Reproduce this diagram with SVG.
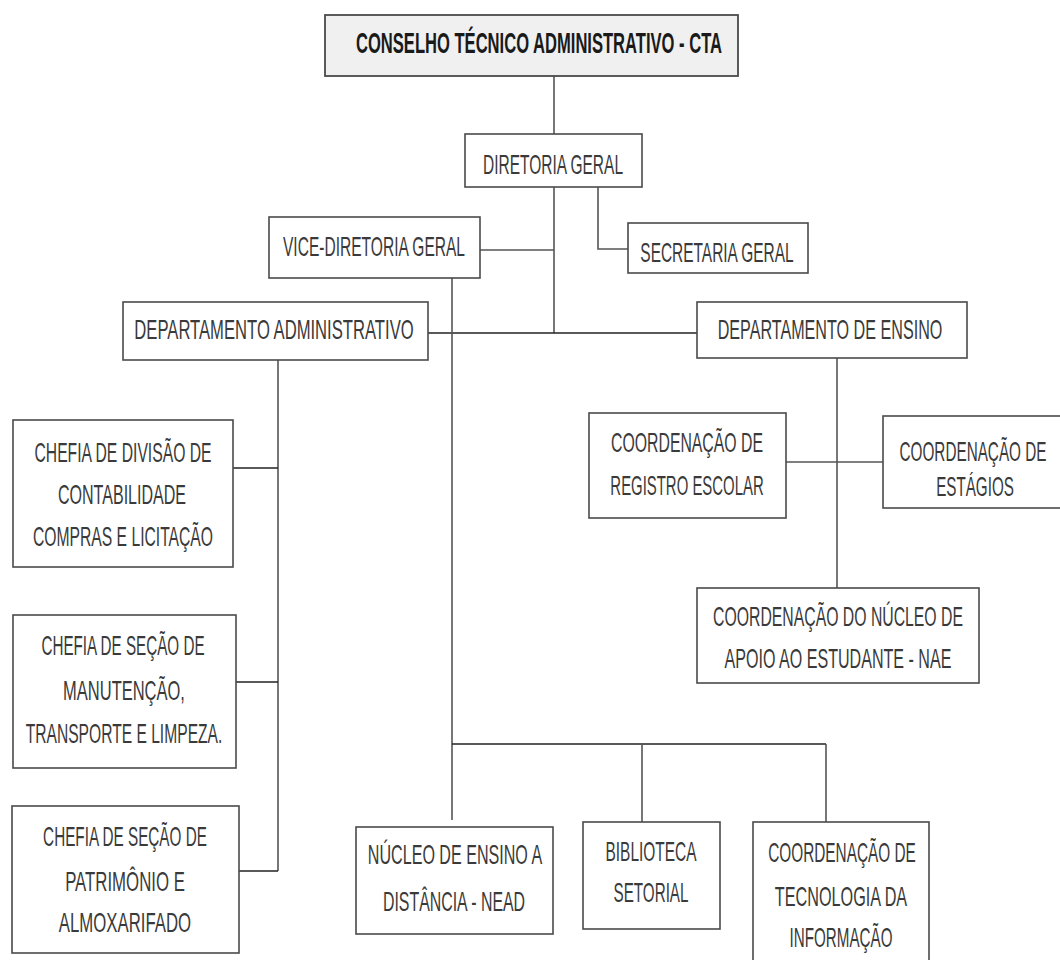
<svg xmlns="http://www.w3.org/2000/svg" width="1060" height="960" viewBox="0 0 1060 960">
<style>
.box{fill:#ffffff;stroke:#4a4a4a;stroke-width:1.6}
.top{fill:#f0f0f0;stroke:#4a4a4a;stroke-width:1.8}
.t{font-family:"Liberation Sans Narrow","Liberation Sans","DejaVu Sans Condensed",sans-serif;font-size:27px;fill:#3a3a3a;text-anchor:middle}
.tb{font-family:"Liberation Sans Narrow","Liberation Sans","DejaVu Sans Condensed",sans-serif;font-size:29px;font-weight:bold;fill:#1a1a1a;text-anchor:middle}
.c{fill:none;stroke:#555;stroke-width:1.6}
.cd{fill:none;stroke:#222;stroke-width:1.6}
</style>
<rect width="1060" height="960" fill="#ffffff"/>
<g id="connectors">
<path class="c" d="M554 76 V134"/>
<path class="c" d="M554 187 V333"/>
<path class="c" d="M480 250 H554"/>
<path class="c" d="M598 187 V249 H628"/>
<path class="cd" d="M428 333 H697"/>
<path class="c" d="M452 278 V820"/>
<path class="c" d="M278 360 V871"/>
<path class="cd" d="M233 468 H278"/>
<path class="cd" d="M236 682 H278"/>
<path class="cd" d="M239 871 H278"/>
<path class="c" d="M837 358 V588"/>
<path class="c" d="M786 462 H883"/>
<path class="cd" d="M452 744 H826"/>
<path class="c" d="M642 744 V822"/>
<path class="c" d="M826 744 V822"/>
</g>
<g id="cta">
<rect class="top" x="325" y="15" width="413" height="61"/>
<text class="tb" transform="translate(539 53) scale(0.7 1)" textLength="523" lengthAdjust="spacingAndGlyphs">CONSELHO TÉCNICO ADMINISTRATIVO - CTA</text>
</g>
<g id="diretoria">
<rect class="box" x="465" y="134" width="177" height="53"/>
<text class="t" transform="translate(553 174) scale(0.7 1)" textLength="200" lengthAdjust="spacingAndGlyphs">DIRETORIA GERAL</text>
</g>
<g id="vice">
<rect class="box" x="269" y="217" width="211" height="61"/>
<text class="t" transform="translate(374 256) scale(0.7 1)" textLength="260" lengthAdjust="spacingAndGlyphs">VICE-DIRETORIA GERAL</text>
</g>
<g id="secretaria">
<rect class="box" x="628" y="223" width="180" height="50"/>
<text class="t" transform="translate(717 262) scale(0.7 1)" textLength="219" lengthAdjust="spacingAndGlyphs">SECRETARIA GERAL</text>
</g>
<g id="dep-adm">
<rect class="box" x="123" y="302" width="305" height="58"/>
<text class="t" transform="translate(274 339) scale(0.7 1)" textLength="399" lengthAdjust="spacingAndGlyphs">DEPARTAMENTO ADMINISTRATIVO</text>
</g>
<g id="dep-ensino">
<rect class="box" x="697" y="302" width="270" height="56"/>
<text class="t" transform="translate(830 339) scale(0.7 1)" textLength="321" lengthAdjust="spacingAndGlyphs">DEPARTAMENTO DE ENSINO</text>
</g>
<g id="chefia-contabilidade">
<rect class="box" x="13" y="420" width="220" height="147"/>
<text class="t" transform="translate(123 462) scale(0.7 1)" textLength="253" lengthAdjust="spacingAndGlyphs">CHEFIA DE DIVISÃO DE</text>
<text class="t" transform="translate(122 504) scale(0.7 1)" textLength="183" lengthAdjust="spacingAndGlyphs">CONTABILIDADE</text>
<text class="t" transform="translate(123 546) scale(0.7 1)" textLength="257" lengthAdjust="spacingAndGlyphs">COMPRAS E LICITAÇÃO</text>
</g>
<g id="chefia-manutencao">
<rect class="box" x="13" y="615" width="223" height="153"/>
<text class="t" transform="translate(123 655) scale(0.7 1)" textLength="233" lengthAdjust="spacingAndGlyphs">CHEFIA DE SEÇÃO DE</text>
<text class="t" transform="translate(124 700) scale(0.7 1)" textLength="174" lengthAdjust="spacingAndGlyphs">MANUTENÇÃO,</text>
<text class="t" transform="translate(124 743) scale(0.7 1)" textLength="281" lengthAdjust="spacingAndGlyphs">TRANSPORTE E LIMPEZA.</text>
</g>
<g id="chefia-patrimonio">
<rect class="box" x="12" y="806" width="227" height="147"/>
<text class="t" transform="translate(125 846) scale(0.7 1)" textLength="234" lengthAdjust="spacingAndGlyphs">CHEFIA DE SEÇÃO DE</text>
<text class="t" transform="translate(125 891) scale(0.7 1)" textLength="171" lengthAdjust="spacingAndGlyphs">PATRIMÔNIO E</text>
<text class="t" transform="translate(125 932) scale(0.7 1)" textLength="189" lengthAdjust="spacingAndGlyphs">ALMOXARIFADO</text>
</g>
<g id="registro">
<rect class="box" x="589" y="413" width="197" height="105"/>
<text class="t" transform="translate(687 452) scale(0.7 1)" textLength="217" lengthAdjust="spacingAndGlyphs">COORDENAÇÃO DE</text>
<text class="t" transform="translate(687 495) scale(0.7 1)" textLength="219" lengthAdjust="spacingAndGlyphs">REGISTRO ESCOLAR</text>
</g>
<g id="estagios">
<rect class="box" x="883" y="416" width="185" height="92"/>
<text class="t" transform="translate(973 461) scale(0.7 1)" textLength="210" lengthAdjust="spacingAndGlyphs">COORDENAÇÃO DE</text>
<text class="t" transform="translate(975 496) scale(0.7 1)" textLength="111" lengthAdjust="spacingAndGlyphs">ESTÁGIOS</text>
</g>
<g id="nae">
<rect class="box" x="697" y="588" width="282" height="95"/>
<text class="t" transform="translate(838 626) scale(0.7 1)" textLength="357" lengthAdjust="spacingAndGlyphs">COORDENAÇÃO DO NÚCLEO DE</text>
<text class="t" transform="translate(838 668) scale(0.7 1)" textLength="324" lengthAdjust="spacingAndGlyphs">APOIO AO ESTUDANTE - NAE</text>
</g>
<g id="nead">
<rect class="box" x="356" y="827" width="197" height="107"/>
<text class="t" transform="translate(455 864) scale(0.7 1)" textLength="249" lengthAdjust="spacingAndGlyphs">NÚCLEO DE ENSINO A</text>
<text class="t" transform="translate(454 911) scale(0.7 1)" textLength="203" lengthAdjust="spacingAndGlyphs">DISTÂNCIA - NEAD</text>
</g>
<g id="biblioteca">
<rect class="box" x="583" y="822" width="137" height="107"/>
<text class="t" transform="translate(651 861) scale(0.7 1)" textLength="130" lengthAdjust="spacingAndGlyphs">BIBLIOTECA</text>
<text class="t" transform="translate(651 902) scale(0.7 1)" textLength="107" lengthAdjust="spacingAndGlyphs">SETORIAL</text>
</g>
<g id="tecnologia">
<rect class="box" x="753" y="822" width="176" height="146"/>
<text class="t" transform="translate(842 862) scale(0.7 1)" textLength="211" lengthAdjust="spacingAndGlyphs">COORDENAÇÃO DE</text>
<text class="t" transform="translate(841 906) scale(0.7 1)" textLength="189" lengthAdjust="spacingAndGlyphs">TECNOLOGIA DA</text>
<text class="t" transform="translate(841 947) scale(0.7 1)" textLength="147" lengthAdjust="spacingAndGlyphs">INFORMAÇÃO</text>
</g>
</svg>
